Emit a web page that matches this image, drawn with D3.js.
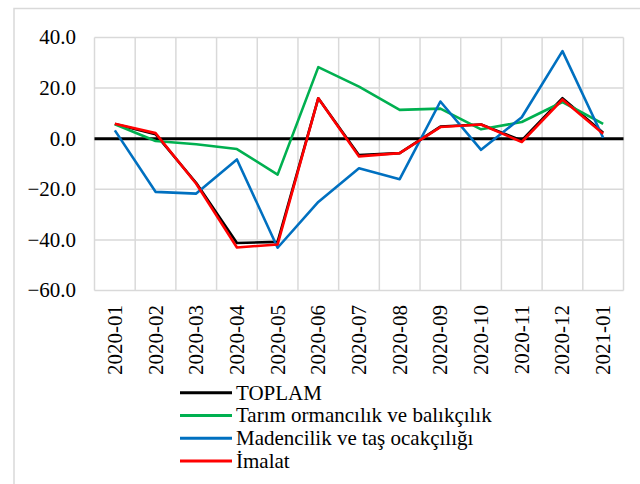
<!DOCTYPE html>
<html><head><meta charset="utf-8">
<script src="https://cdn.jsdelivr.net/npm/d3@7"></script>
<style>
html,body{margin:0;padding:0;background:#fff;}
svg{display:block;}
text{font-family:'Liberation Serif','Times New Roman',Times,'DejaVu Serif',serif;}
</style></head>
<body><svg id="c" width="640" height="484"></svg>
<script>
const categories = ["2020-01","2020-02","2020-03","2020-04","2020-05","2020-06","2020-07","2020-08","2020-09","2020-10","2020-11","2020-12","2021-01"];
const seriesNames = ["TOPLAM","Tarım ormancılık ve balıkçılık","Madencilik ve taş ocakçılığı","İmalat"];
const toplam = [5.8, 1.8, -17.5, -41.2, -40.8, 16.0, -6.5, -5.7, 4.8, 5.6, -0.7, 16.0, 2.4];
const tarim = [5.7, -0.9, -2.2, -4.1, -14.2, 28.3, 20.6, 11.4, 11.9, 3.7, 6.6, 14.5, 5.9];
const maden = [3.3, -21.0, -21.7, -8.2, -43.1, -25.0, -11.7, -16.0, 14.7, -4.4, 8.5, 34.6, 0.4];
const imalat = [5.9, 2.2, -17.8, -43.0, -41.8, 16.0, -7.0, -5.7, 4.6, 5.6, -1.3, 15.5, 2.0];
const yTicks = [40, 20, 0, -20, -40, -60];
const colors = ["#000000", "#00b050", "#0070c0", "#ff0000"];

const FONT = "'Liberation Serif','Times New Roman',Times,'DejaVu Serif',serif";
const series = [toplam, tarim, maden, imalat];
const svg = d3.select("#c");
const L = 94.5, R = 623.5, T = 37.5, B = 290.5;

svg.append("path").attr("d", `M14,484 V8.5 H640`).attr("fill","none").attr("stroke","#d9d9d9").attr("stroke-width",1.5);

const x = d3.scaleBand().domain(categories).range([L, R]);
const y = d3.scaleLinear().domain([-60, 40]).range([B, T]);

svg.append("g").selectAll("line").data(yTicks).join("line")
  .attr("x1", L).attr("x2", R).attr("y1", d => y(d)).attr("y2", d => y(d))
  .attr("stroke", "#d9d9d9").attr("stroke-width", 1.5);
const bounds = categories.map(c => x(c)).concat([R]);
svg.append("g").selectAll("line").data(bounds).join("line")
  .attr("x1", d => d).attr("x2", d => d).attr("y1", T).attr("y2", B)
  .attr("stroke", "#d9d9d9").attr("stroke-width", 1.5);

svg.append("line").attr("x1", L).attr("x2", R).attr("y1", y(0)).attr("y2", y(0))
  .attr("stroke", "#000").attr("stroke-width", 3);

svg.append("g").attr("font-family", FONT).selectAll("text").data(yTicks).join("text")
  .attr("x", 76).attr("y", d => y(d)).attr("dy", "0.33em")
  .attr("text-anchor", "end").attr("font-size", 21).attr("fill", "#000")
  .text(d => d3.format(".1f")(d));

svg.append("g").attr("font-family", FONT).selectAll("text").data(categories).join("text")
  .attr("transform", d => `translate(${x(d) + x.bandwidth()/2 + 7},305) rotate(-90)`)
  .attr("text-anchor", "end").attr("font-size", 21).attr("fill", "#000")
  .text(d => d);

const line = d3.line().x((d, i) => x(categories[i]) + x.bandwidth()/2).y(d => y(d));
series.forEach((s, k) => {
  svg.append("path").attr("d", line(s)).attr("fill", "none")
    .attr("stroke", colors[k]).attr("stroke-width", 2.6).attr("stroke-linejoin", "round");
});

const lg = svg.append("g").attr("font-family", FONT);
seriesNames.forEach((n, k) => {
  const yy = 392.7 + k * 22.8;
  lg.append("line").attr("x1", 180).attr("x2", 232).attr("y1", yy).attr("y2", yy)
    .attr("stroke", colors[k]).attr("stroke-width", 3);
  lg.append("text").attr("x", 236).attr("y", yy).attr("dy", "0.33em")
    .attr("font-size", 21).attr("fill", "#000").text(n);
});
</script></body></html>
